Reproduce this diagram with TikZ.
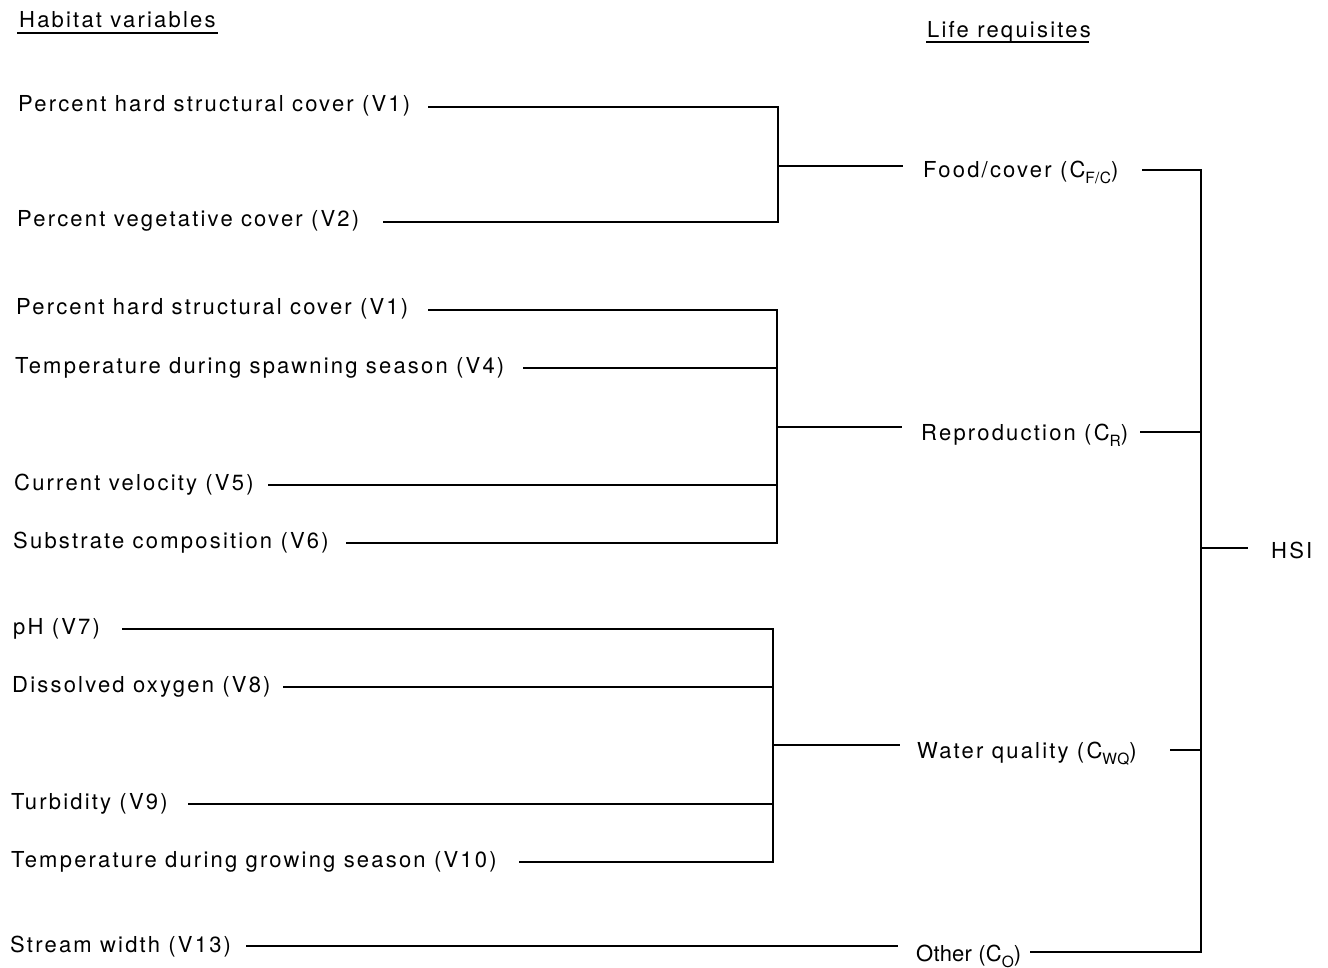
\documentclass[tikz,border=0pt]{standalone}
\usepackage{fontspec}
\setmainfont{TeX Gyre Heros}[LetterSpace=10]
\newfontfamily\subfont{TeX Gyre Heros}[LetterSpace=2]
\newcommand\sbs[1]{\raisebox{-6pt}{\subfont\fontsize{15.5}{15.5}\selectfont #1}}
\begin{document}
\begin{tikzpicture}[x=1pt,y=-1pt,
  lbl/.style={inner sep=0pt, anchor=base west, font=\fontsize{22}{26}\selectfont},
  ln/.style={line width=1.4pt, line join=miter}]
\useasboundingbox (0,0) rectangle (1328,968);
% headers
\node[lbl] (hv) at (19,28) {Habitat variables};
\node[lbl] (lr) at (927,38) {Life requisites};
\coordinate (hvl) at (17,33); \coordinate (hvr) at (218,33);
\coordinate (lrl) at (926,42); \coordinate (lrr) at (1089,42);
\draw[ln] (hvl) -- (hvr);
\draw[ln] (lrl) -- (lrr);
% habitat variables
\node[lbl] (v1a) at (18,112) {Percent hard structural cover (V1)};
\node[lbl] (v2) at (17,227) {Percent vegetative cover (V2)};
\node[lbl] (v1b) at (16,315) {Percent hard structural cover (V1)};
\node[lbl] (v4) at (15,373) {Temperature during spawning season (V4)};
\node[lbl] (v5) at (14,490) {Current velocity (V5)};
\node[lbl] (v6) at (13,548) {Substrate composition (V6)};
\node[lbl] (v7) at (13,634) {pH (V7)};
\node[lbl] (v8) at (12,692) {Dissolved oxygen (V8)};
\node[lbl] (v9) at (11,809) {Turbidity (V9)};
\node[lbl] (v10) at (11,867) {Temperature during growing season (V10)};
\node[lbl] (v13) at (10,952) {Stream width (V13)};
% life requisites
\node[lbl] (cfc) at (923,178) {Food/cover (C\sbs{F/C})};
\node[lbl] (cr) at (921,440) {Reproduction (C\sbs{R})};
\node[lbl] (cwq) at (917,758) {Water quality (C\sbs{WQ})};
\node[lbl] (co) at (916,961) {\addfontfeature{LetterSpace=1}Other (C\sbs{O})};
\node[lbl] (hsi) at (1271,558) {HSI};
% group 1
\coordinate (a1) at (428,107); \coordinate (a2) at (383,222);
\coordinate (ja1) at (778,107); \coordinate (ja2) at (778,222);
\coordinate (ma) at (778,166); \coordinate (ea) at (903,166);
\draw[ln] (a1) -- (ja1) -- (ja2) -- (a2);
\draw[ln] (ma) -- (ea);
% group 2
\coordinate (b1) at (428,310); \coordinate (b2) at (523,368);
\coordinate (b3) at (268,485); \coordinate (b4) at (346,543);
\coordinate (jb1) at (777,310); \coordinate (jb2) at (777,368);
\coordinate (jb3) at (777,485); \coordinate (jb4) at (777,543);
\coordinate (mb) at (777,427); \coordinate (eb) at (902,427);
\draw[ln] (b1) -- (jb1) -- (jb4) -- (b4);
\draw[ln] (b2) -- (jb2);
\draw[ln] (b3) -- (jb3);
\draw[ln] (mb) -- (eb);
% group 3
\coordinate (c1) at (122,629); \coordinate (c2) at (283,687);
\coordinate (c3) at (188,804); \coordinate (c4) at (519,862);
\coordinate (jc1) at (773,629); \coordinate (jc2) at (773,687);
\coordinate (jc3) at (773,804); \coordinate (jc4) at (773,862);
\coordinate (mc) at (773,745); \coordinate (ec) at (900,745);
\draw[ln] (c1) -- (jc1) -- (jc4) -- (c4);
\draw[ln] (c2) -- (jc2);
\draw[ln] (c3) -- (jc3);
\draw[ln] (mc) -- (ec);
% stream width
\coordinate (d1) at (246,946); \coordinate (ed) at (898,946);
\draw[ln] (d1) -- (ed);
% HSI bracket
\coordinate (r1) at (1142,170); \coordinate (k1) at (1201,170);
\coordinate (r2) at (1140,432); \coordinate (k2) at (1201,432);
\coordinate (r3) at (1170,750); \coordinate (k3) at (1201,750);
\coordinate (r4) at (1030,952); \coordinate (k4) at (1201,952);
\coordinate (km) at (1201,548); \coordinate (h1) at (1248,548);
\draw[ln] (r1) -- (k1) -- (k4) -- (r4);
\draw[ln] (r2) -- (k2);
\draw[ln] (r3) -- (k3);
\draw[ln] (km) -- (h1);
\end{tikzpicture}
\end{document}
